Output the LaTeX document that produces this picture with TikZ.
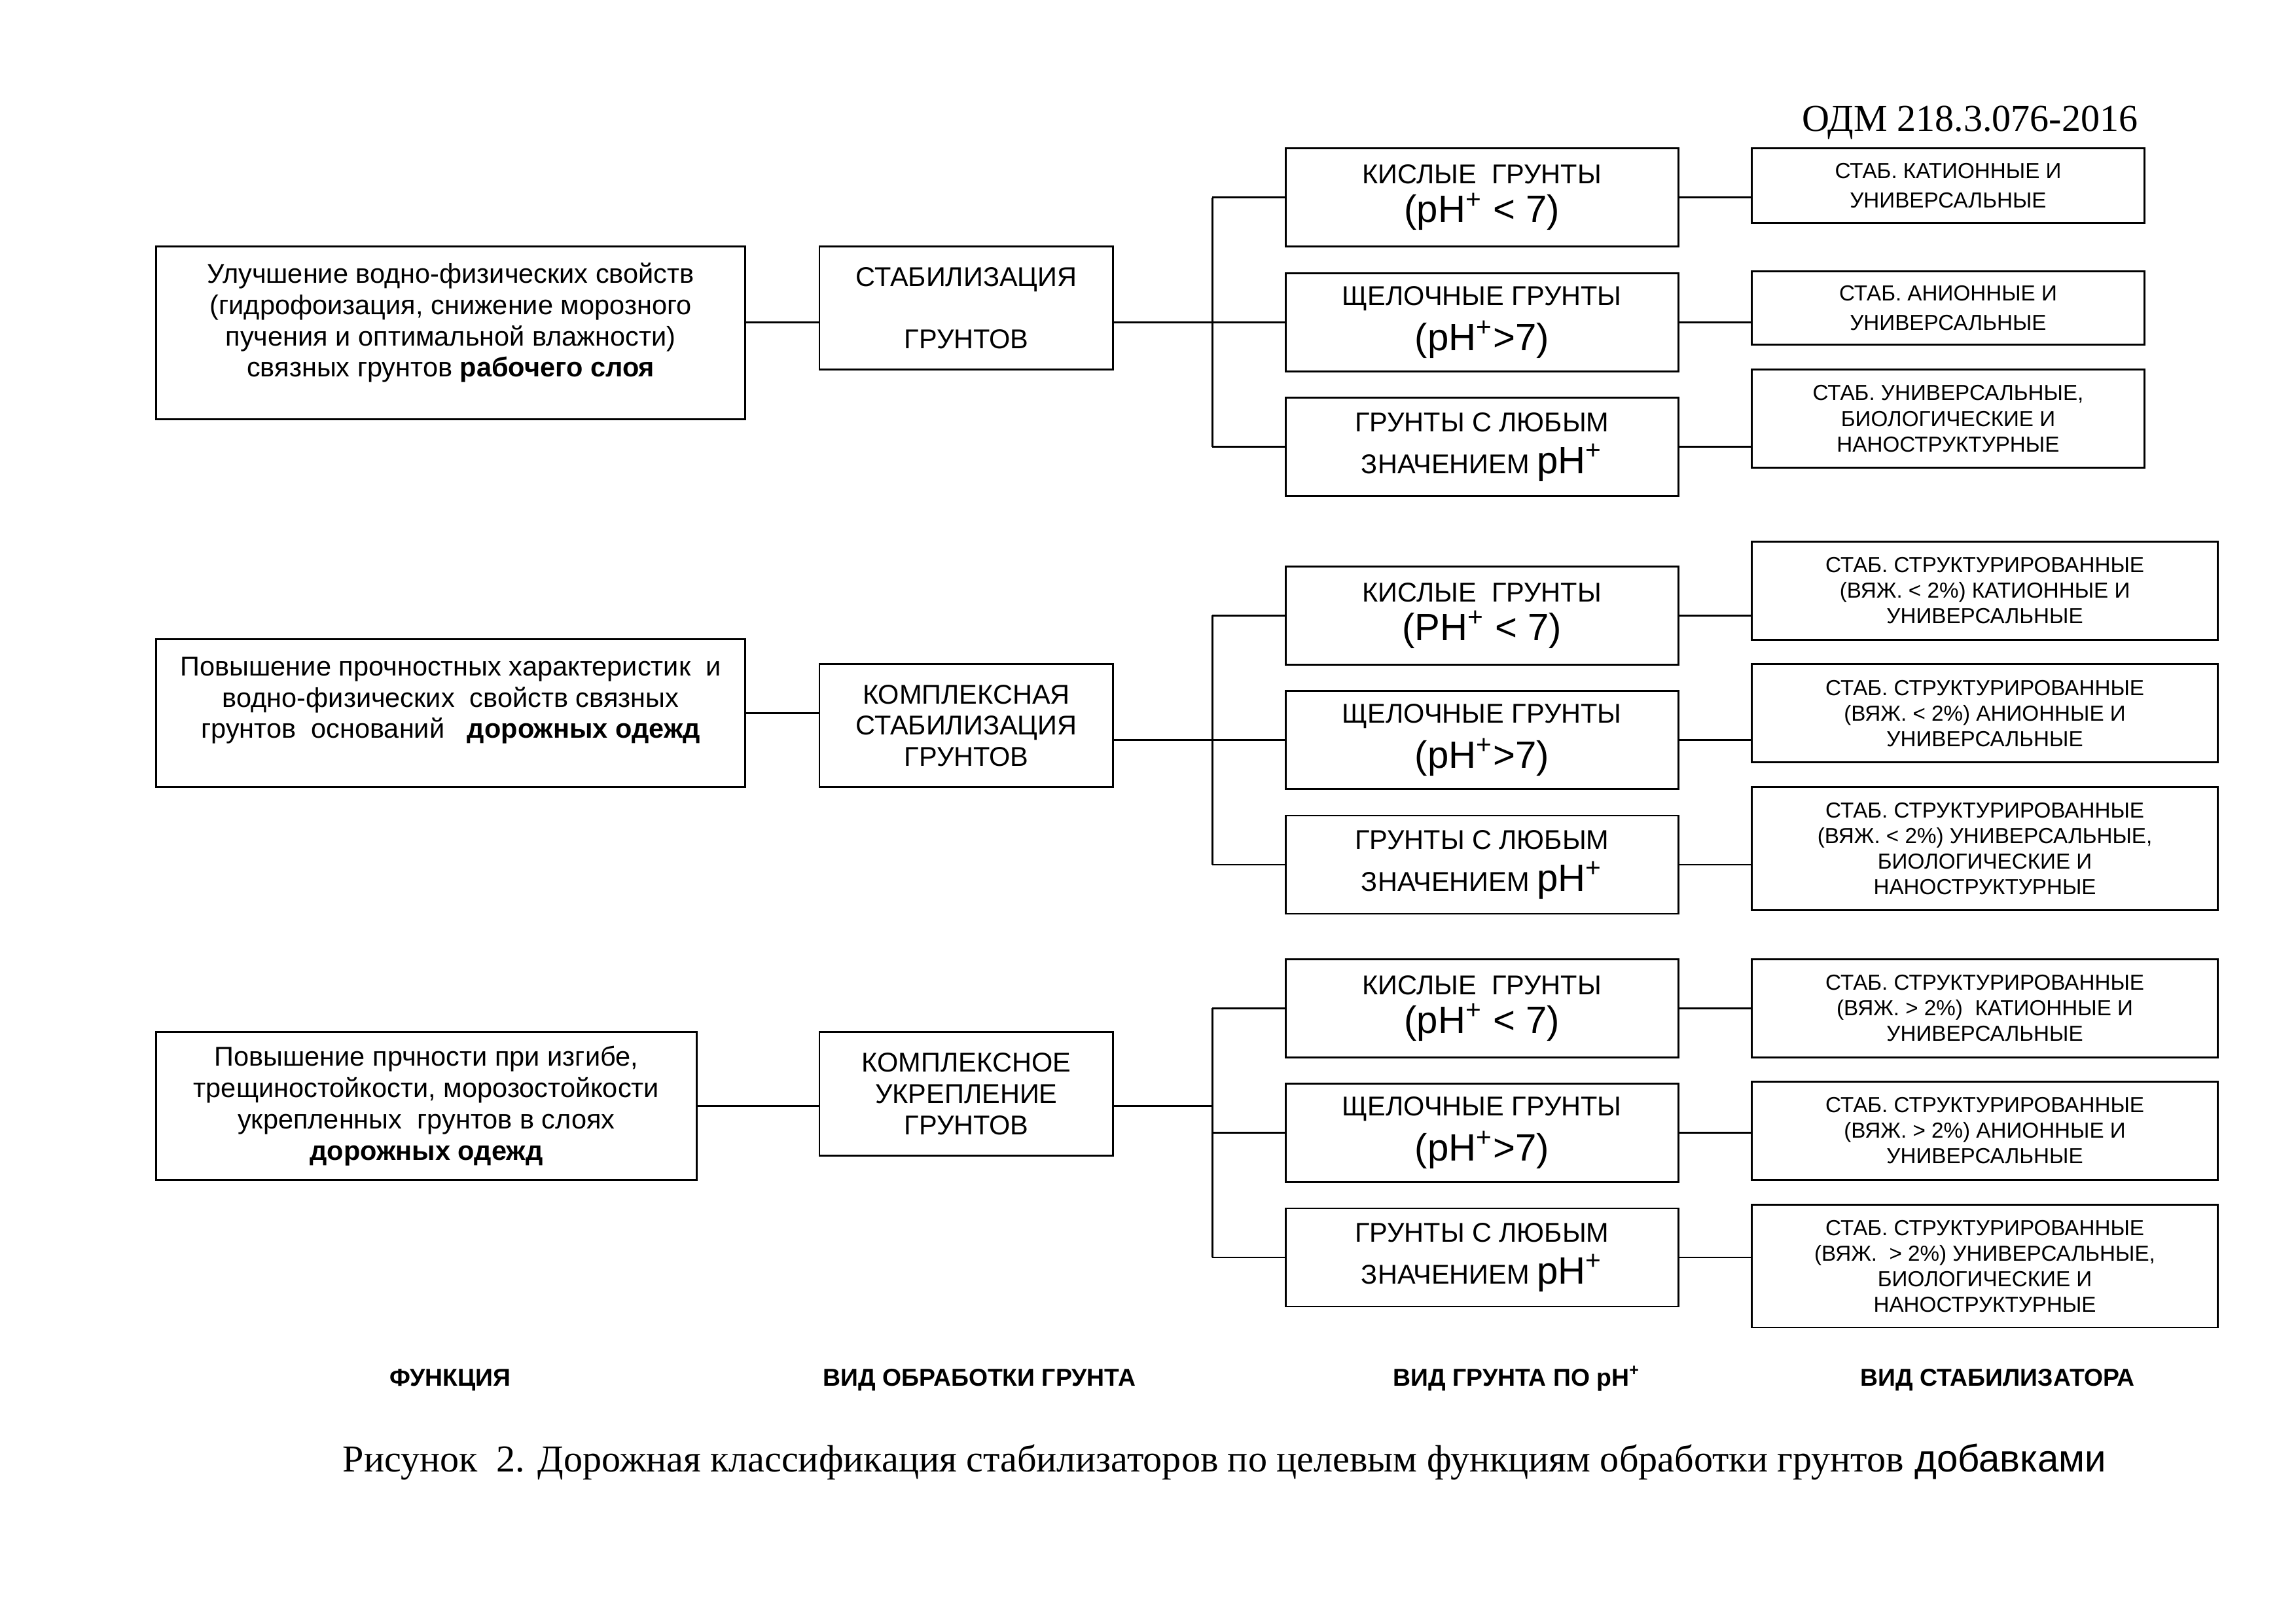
\documentclass[tikz,border=0pt]{standalone}
\usepackage{fontspec}
\setmainfont{Liberation Sans}
\newfontfamily\timesfont{Liberation Serif}
\usepackage{tikz}
\usetikzlibrary{positioning, calc}
\tikzset{
  funblock/.style={rectangle, draw, line width=0.7pt, align=center, inner sep=0pt,
    font=\fontsize{10}{11.5}\selectfont},
  treatblock/.style={rectangle, draw, line width=0.7pt, align=center, inner sep=0pt,
    minimum width=38mm, minimum height=15.9mm, font=\fontsize{10}{11.5}\selectfont},
  phblock/.style={rectangle, draw, line width=0.7pt, align=center, inner sep=0pt,
    minimum width=50.8mm, minimum height=12.7mm, font=\fontsize{10}{11.5}\selectfont},
  stabblock/.style={rectangle, draw, line width=0.7pt, align=center, inner sep=0pt,
    minimum width=60.3mm, minimum height=12.7mm, font=\fontsize{8}{9.4}\selectfont},
  colhead/.style={anchor=base, font=\fontsize{9}{11}\selectfont\bfseries},
  line/.style={line width=0.7pt}
}
\newcommand{\phbig}[1]{{\fontsize{14}{16}\selectfont #1}}

\begin{document}
\begin{tikzpicture}[x=1mm, y=1mm, node distance=3.175mm]
  \useasboundingbox (0,0) rectangle (297,-210.05);

  \node[anchor=base east, font=\timesfont\fontsize{14}{16}\selectfont] (doc) at (277.8,-16.95) {ОДМ 218.3.076-2016};

  % row 1
  \node[funblock, minimum width=76.2mm, minimum height=22.3mm] (fun1) at (58.3,-43.05)
    {Улучшение водно-физических свойств\\(гидрофоизация, снижение морозного\\пучения и оптимальной влажности)\\связных грунтов \textbf{рабочего слоя}\\[-2pt]\mbox{}};
  \node[treatblock] (tr1) at (125,-39.85) {СТАБИЛИЗАЦИЯ\\[11.5pt]ГРУНТОВ};
  \node[phblock] (ph11) at (191.7,-25.55) {КИСЛЫЕ~ ГРУНТЫ\\[2.7pt]\phbig{(pH\textsuperscript{+} < 7)}};
  \node[phblock, below=of ph11] (ph12) {ЩЕЛОЧНЫЕ ГРУНТЫ\\[2.7pt]\phbig{(pH\textsuperscript{+}>7)}};
  \node[phblock, below=of ph12] (ph13) {ГРУНТЫ С ЛЮБЫМ\\[3.9pt]ЗНАЧЕНИЕМ \phbig{pH\textsuperscript{+}}};
  \node[stabblock, minimum width=50.8mm, minimum height=9.6mm] (st11) at (252,-24) {СТАБ. КАТИОННЫЕ И\\[1.5pt]УНИВЕРСАЛЬНЫЕ};
  \node[stabblock, minimum width=50.8mm, minimum height=9.5mm] (st12) at (252,-39.85) {СТАБ. АНИОННЫЕ И\\[1.5pt]УНИВЕРСАЛЬНЫЕ};
  \node[stabblock, minimum width=50.8mm] (st13) at (252,-54.15) {СТАБ. УНИВЕРСАЛЬНЫЕ,\\БИОЛОГИЧЕСКИЕ И\\НАНОСТРУКТУРНЫЕ};

  % row 2
  \node[funblock, minimum width=76.2mm, minimum height=19.1mm] (fun2) at (58.3,-92.25)
    {Повышение прочностных характеристик~ и\\водно-физических~ свойств связных\\грунтов~ оснований~~ \textbf{дорожных одежд}\\\mbox{}};
  \node[treatblock] (tr2) at (125,-93.85) {КОМПЛЕКСНАЯ\\СТАБИЛИЗАЦИЯ\\ГРУНТОВ};
  \node[phblock] (ph21) at (191.7,-79.6) {КИСЛЫЕ~ ГРУНТЫ\\[2.7pt]\phbig{(PH\textsuperscript{+} < 7)}};
  \node[phblock, below=of ph21] (ph22) {ЩЕЛОЧНЫЕ ГРУНТЫ\\[2.7pt]\phbig{(pH\textsuperscript{+}>7)}};
  \node[phblock, below=of ph22] (ph23) {ГРУНТЫ С ЛЮБЫМ\\[3.9pt]ЗНАЧЕНИЕМ \phbig{pH\textsuperscript{+}}};
  \node[stabblock] (st21) at (256.75,-76.4) {СТАБ. СТРУКТУРИРОВАННЫЕ\\(ВЯЖ. < 2\%) КАТИОННЫЕ И\\УНИВЕРСАЛЬНЫЕ};
  \node[stabblock] (st22) at (256.75,-92.25) {СТАБ. СТРУКТУРИРОВАННЫЕ\\(ВЯЖ. < 2\%) АНИОННЫЕ И\\УНИВЕРСАЛЬНЫЕ};
  \node[stabblock, minimum height=15.9mm] (st23) at (256.75,-109.75) {СТАБ. СТРУКТУРИРОВАННЫЕ\\(ВЯЖ. < 2\%) УНИВЕРСАЛЬНЫЕ,\\БИОЛОГИЧЕСКИЕ И\\НАНОСТРУКТУРНЫЕ};

  % row 3
  \node[funblock, minimum width=69.9mm, minimum height=19.1mm] (fun3) at (55.15,-143.05)
    {Повышение прчности при изгибе,\\трещиностойкости, морозостойкости\\укрепленных~ грунтов в слоях\\\textbf{дорожных одежд}};
  \node[treatblock, minimum height=16mm] (tr3) at (125,-141.5) {КОМПЛЕКСНОЕ\\УКРЕПЛЕНИЕ\\ГРУНТОВ};
  \node[phblock] (ph31) at (191.7,-130.4) {КИСЛЫЕ~ ГРУНТЫ\\[2.7pt]\phbig{(pH\textsuperscript{+} < 7)}};
  \node[phblock, below=of ph31] (ph32) {ЩЕЛОЧНЫЕ ГРУНТЫ\\[2.7pt]\phbig{(pH\textsuperscript{+}>7)}};
  \node[phblock, below=of ph32] (ph33) {ГРУНТЫ С ЛЮБЫМ\\[3.9pt]ЗНАЧЕНИЕМ \phbig{pH\textsuperscript{+}}};
  \node[stabblock] (st31) at (256.75,-130.4) {СТАБ. СТРУКТУРИРОВАННЫЕ\\(ВЯЖ. > 2\%)~ КАТИОННЫЕ И\\УНИВЕРСАЛЬНЫЕ};
  \node[stabblock] (st32) at (256.75,-146.25) {СТАБ. СТРУКТУРИРОВАННЫЕ\\(ВЯЖ. > 2\%) АНИОННЫЕ И\\УНИВЕРСАЛЬНЫЕ};
  \node[stabblock, minimum height=15.9mm] (st33) at (256.75,-163.75) {СТАБ. СТРУКТУРИРОВАННЫЕ\\(ВЯЖ.~ > 2\%) УНИВЕРСАЛЬНЫЕ,\\БИОЛОГИЧЕСКИЕ И\\НАНОСТРУКТУРНЫЕ};

  \coordinate (bus) at (156.8,0);
  \foreach \r in {1,2,3}{
    \draw[line] (bus |- ph\r1) -- (bus |- ph\r3);
    \foreach \k in {1,2,3}{
      \draw[line] (bus |- ph\r\k) -- (ph\r\k.west);
      \draw[line] (ph\r\k.east) -- (st\r\k.west |- ph\r\k.east);
    }
  }
  \draw[line] (fun1.east |- ph12) -- (tr1.west |- ph12);
  \draw[line] (tr1.east |- ph12) -- (bus |- ph12);
  \draw[line] (fun2.east) -- (tr2.west |- fun2.east);
  \draw[line] (tr2.east |- ph22) -- (bus |- ph22);
  \draw[line] (fun3.east) -- (tr3.west |- fun3.east);
  \draw[line] (tr3.east |- fun3.east) -- (bus |- fun3.east);

  \node[colhead] (hfun) at (58.25,-179.3) {ФУНКЦИЯ};
  \node[colhead] (htreat) at (126.7,-179.3) {ВИД ОБРАБОТКИ ГРУНТА};
  \node[colhead] (hph) at (196.2,-179.3) {ВИД ГРУНТА ПО pH\textsuperscript{+}};
  \node[colhead] (hstab) at (258.4,-179.3) {ВИД СТАБИЛИЗАТОРА};

  \node[anchor=base west, font=\fontsize{14}{16}\selectfont] (caption) at (43.1,-190.4)
    {{\timesfont Рисунок~ 2. Дорожная классификация стабилизаторов по целевым функциям обработки грунтов} добавками};
\end{tikzpicture}
\end{document}
